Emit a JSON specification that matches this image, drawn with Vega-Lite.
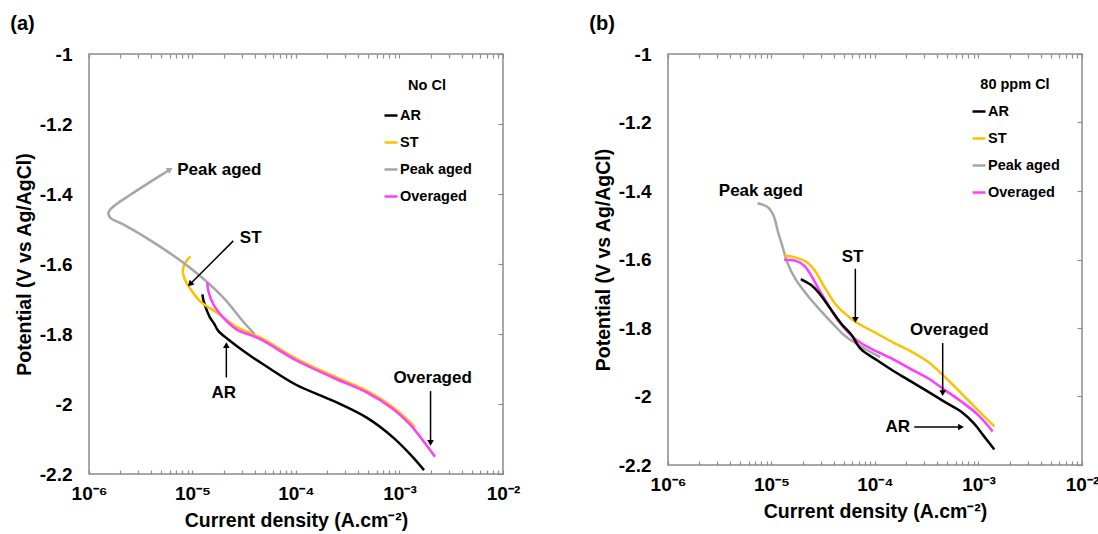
{
  "$schema": "https://vega.github.io/schema/vega-lite/v6.json",
  "padding": {"left": 9, "top": 13, "right": 5, "bottom": 5},
  "spacing": 67,
  "datasets": {
    "curves": [
      {"p":"a","s":"AR","i":0,"x":1.247e-5,"y":-1.687},
      {"p":"a","s":"AR","i":1,"x":1.279e-5,"y":-1.705},
      {"p":"a","s":"AR","i":2,"x":1.380e-5,"y":-1.734},
      {"p":"a","s":"AR","i":3,"x":1.476e-5,"y":-1.753},
      {"p":"a","s":"AR","i":4,"x":1.614e-5,"y":-1.770},
      {"p":"a","s":"AR","i":5,"x":1.774e-5,"y":-1.791},
      {"p":"a","s":"AR","i":6,"x":2.203e-5,"y":-1.815},
      {"p":"a","s":"AR","i":7,"x":3.258e-5,"y":-1.853},
      {"p":"a","s":"AR","i":8,"x":5.200e-5,"y":-1.893},
      {"p":"a","s":"AR","i":9,"x":1.0e-4,"y":-1.945},
      {"p":"a","s":"AR","i":10,"x":2.291e-4,"y":-1.991},
      {"p":"a","s":"AR","i":11,"x":4.819e-4,"y":-2.039},
      {"p":"a","s":"AR","i":12,"x":8.710e-4,"y":-2.096},
      {"p":"a","s":"AR","i":13,"x":1.358e-3,"y":-2.153},
      {"p":"a","s":"AR","i":14,"x":1.726e-3,"y":-2.189},
      {"p":"a","s":"ST","i":0,"x":9.57e-6,"y":-1.578},
      {"p":"a","s":"ST","i":1,"x":8.65e-6,"y":-1.593},
      {"p":"a","s":"ST","i":2,"x":8.07e-6,"y":-1.617},
      {"p":"a","s":"ST","i":3,"x":8.32e-6,"y":-1.640},
      {"p":"a","s":"ST","i":4,"x":9.33e-6,"y":-1.667},
      {"p":"a","s":"ST","i":5,"x":1.180e-5,"y":-1.706},
      {"p":"a","s":"ST","i":6,"x":1.746e-5,"y":-1.740},
      {"p":"a","s":"ST","i":7,"x":2.673e-5,"y":-1.780},
      {"p":"a","s":"ST","i":8,"x":4.467e-5,"y":-1.809},
      {"p":"a","s":"ST","i":9,"x":1.0e-4,"y":-1.870},
      {"p":"a","s":"ST","i":10,"x":2.291e-4,"y":-1.920},
      {"p":"a","s":"ST","i":11,"x":4.819e-4,"y":-1.962},
      {"p":"a","s":"ST","i":12,"x":8.710e-4,"y":-2.010},
      {"p":"a","s":"ST","i":13,"x":1.413e-3,"y":-2.066},
      {"p":"a","s":"Peak aged","i":0,"x":6.067e-6,"y":-1.330},
      {"p":"a","s":"Peak aged","i":1,"x":3.981e-6,"y":-1.364},
      {"p":"a","s":"Peak aged","i":2,"x":2.489e-6,"y":-1.403},
      {"p":"a","s":"Peak aged","i":3,"x":1.824e-6,"y":-1.430},
      {"p":"a","s":"Peak aged","i":4,"x":1.585e-6,"y":-1.446},
      {"p":"a","s":"Peak aged","i":5,"x":1.538e-6,"y":-1.456},
      {"p":"a","s":"Peak aged","i":6,"x":1.622e-6,"y":-1.469},
      {"p":"a","s":"Peak aged","i":7,"x":2.143e-6,"y":-1.487},
      {"p":"a","s":"Peak aged","i":8,"x":4.508e-6,"y":-1.544},
      {"p":"a","s":"Peak aged","i":9,"x":9.46e-6,"y":-1.611},
      {"p":"a","s":"Peak aged","i":10,"x":1.986e-5,"y":-1.696},
      {"p":"a","s":"Peak aged","i":11,"x":3.097e-5,"y":-1.765},
      {"p":"a","s":"Peak aged","i":12,"x":3.981e-5,"y":-1.800},
      {"p":"a","s":"Overaged","i":0,"x":1.390e-5,"y":-1.653},
      {"p":"a","s":"Overaged","i":1,"x":1.422e-5,"y":-1.677},
      {"p":"a","s":"Overaged","i":2,"x":1.589e-5,"y":-1.715},
      {"p":"a","s":"Overaged","i":3,"x":1.986e-5,"y":-1.753},
      {"p":"a","s":"Overaged","i":4,"x":2.673e-5,"y":-1.787},
      {"p":"a","s":"Overaged","i":5,"x":4.467e-5,"y":-1.814},
      {"p":"a","s":"Overaged","i":6,"x":1.0e-4,"y":-1.875},
      {"p":"a","s":"Overaged","i":7,"x":2.291e-4,"y":-1.925},
      {"p":"a","s":"Overaged","i":8,"x":4.819e-4,"y":-1.967},
      {"p":"a","s":"Overaged","i":9,"x":8.710e-4,"y":-2.015},
      {"p":"a","s":"Overaged","i":10,"x":1.262e-3,"y":-2.058},
      {"p":"a","s":"Overaged","i":11,"x":1.698e-3,"y":-2.106},
      {"p":"a","s":"Overaged","i":12,"x":2.203e-3,"y":-2.151},
      {"p":"b","s":"Peak aged","i":0,"x":7.33e-6,"y":-1.436},
      {"p":"b","s":"Peak aged","i":1,"x":9.12e-6,"y":-1.446},
      {"p":"b","s":"Peak aged","i":2,"x":1.023e-5,"y":-1.465},
      {"p":"b","s":"Peak aged","i":3,"x":1.084e-5,"y":-1.485},
      {"p":"b","s":"Peak aged","i":4,"x":1.143e-5,"y":-1.514},
      {"p":"b","s":"Peak aged","i":5,"x":1.276e-5,"y":-1.562},
      {"p":"b","s":"Peak aged","i":6,"x":1.429e-5,"y":-1.611},
      {"p":"b","s":"Peak aged","i":7,"x":1.718e-5,"y":-1.659},
      {"p":"b","s":"Peak aged","i":8,"x":2.228e-5,"y":-1.705},
      {"p":"b","s":"Peak aged","i":9,"x":2.999e-5,"y":-1.750},
      {"p":"b","s":"Peak aged","i":10,"x":3.981e-5,"y":-1.790},
      {"p":"b","s":"Peak aged","i":11,"x":5.070e-5,"y":-1.822},
      {"p":"b","s":"Peak aged","i":12,"x":7.31e-5,"y":-1.854},
      {"p":"b","s":"Peak aged","i":13,"x":1.122e-4,"y":-1.885},
      {"p":"b","s":"ST","i":0,"x":1.330e-5,"y":-1.588},
      {"p":"b","s":"ST","i":1,"x":1.656e-5,"y":-1.593},
      {"p":"b","s":"ST","i":2,"x":2.148e-5,"y":-1.606},
      {"p":"b","s":"ST","i":3,"x":2.582e-5,"y":-1.630},
      {"p":"b","s":"ST","i":4,"x":3.228e-5,"y":-1.679},
      {"p":"b","s":"ST","i":5,"x":4.188e-5,"y":-1.732},
      {"p":"b","s":"ST","i":6,"x":5.129e-5,"y":-1.758},
      {"p":"b","s":"ST","i":7,"x":6.397e-5,"y":-1.781},
      {"p":"b","s":"ST","i":8,"x":1.023e-4,"y":-1.815},
      {"p":"b","s":"ST","i":9,"x":1.535e-4,"y":-1.844},
      {"p":"b","s":"ST","i":10,"x":2.223e-4,"y":-1.868},
      {"p":"b","s":"ST","i":11,"x":3.221e-4,"y":-1.898},
      {"p":"b","s":"ST","i":12,"x":4.667e-4,"y":-1.941},
      {"p":"b","s":"ST","i":13,"x":6.776e-4,"y":-1.990},
      {"p":"b","s":"ST","i":14,"x":9.82e-4,"y":-2.039},
      {"p":"b","s":"ST","i":15,"x":1.422e-3,"y":-2.087},
      {"p":"b","s":"Overaged","i":0,"x":1.324e-5,"y":-1.601},
      {"p":"b","s":"Overaged","i":1,"x":1.718e-5,"y":-1.604},
      {"p":"b","s":"Overaged","i":2,"x":2.065e-5,"y":-1.618},
      {"p":"b","s":"Overaged","i":3,"x":2.399e-5,"y":-1.645},
      {"p":"b","s":"Overaged","i":4,"x":2.884e-5,"y":-1.689},
      {"p":"b","s":"Overaged","i":5,"x":3.606e-5,"y":-1.737},
      {"p":"b","s":"Overaged","i":6,"x":4.335e-5,"y":-1.776},
      {"p":"b","s":"Overaged","i":7,"x":5.916e-5,"y":-1.822},
      {"p":"b","s":"Overaged","i":8,"x":7.31e-5,"y":-1.844},
      {"p":"b","s":"Overaged","i":9,"x":1.059e-4,"y":-1.870},
      {"p":"b","s":"Overaged","i":10,"x":1.535e-4,"y":-1.893},
      {"p":"b","s":"Overaged","i":11,"x":2.223e-4,"y":-1.920},
      {"p":"b","s":"Overaged","i":12,"x":3.221e-4,"y":-1.946},
      {"p":"b","s":"Overaged","i":13,"x":4.667e-4,"y":-1.980},
      {"p":"b","s":"Overaged","i":14,"x":6.776e-4,"y":-2.014},
      {"p":"b","s":"Overaged","i":15,"x":9.82e-4,"y":-2.053},
      {"p":"b","s":"Overaged","i":16,"x":1.371e-3,"y":-2.102},
      {"p":"b","s":"AR","i":0,"x":1.919e-5,"y":-1.657},
      {"p":"b","s":"AR","i":1,"x":2.399e-5,"y":-1.674},
      {"p":"b","s":"AR","i":2,"x":2.884e-5,"y":-1.698},
      {"p":"b","s":"AR","i":3,"x":3.483e-5,"y":-1.732},
      {"p":"b","s":"AR","i":4,"x":4.688e-5,"y":-1.786},
      {"p":"b","s":"AR","i":5,"x":5.916e-5,"y":-1.820},
      {"p":"b","s":"AR","i":6,"x":7.31e-5,"y":-1.862},
      {"p":"b","s":"AR","i":7,"x":1.059e-4,"y":-1.895},
      {"p":"b","s":"AR","i":8,"x":1.535e-4,"y":-1.927},
      {"p":"b","s":"AR","i":9,"x":2.223e-4,"y":-1.956},
      {"p":"b","s":"AR","i":10,"x":3.221e-4,"y":-1.985},
      {"p":"b","s":"AR","i":11,"x":4.667e-4,"y":-2.015},
      {"p":"b","s":"AR","i":12,"x":6.776e-4,"y":-2.044},
      {"p":"b","s":"AR","i":13,"x":9.12e-4,"y":-2.080},
      {"p":"b","s":"AR","i":14,"x":1.122e-3,"y":-2.115},
      {"p":"b","s":"AR","i":15,"x":1.422e-3,"y":-2.155}
    ],
    "arrows": [
      {"p":"a","n":"ST","x":2.477e-5,"y":-1.534,"x2":9.46e-6,"y2":-1.658},
      {"p":"a","n":"AR","x":2.123e-5,"y":-1.924,"x2":2.123e-5,"y2":-1.832},
      {"p":"a","n":"Overaged","x":1.995e-3,"y":-1.963,"x2":1.995e-3,"y2":-2.111},
      {"p":"b","n":"ST","x":6.457e-5,"y":-1.627,"x2":6.457e-5,"y2":-1.776},
      {"p":"b","n":"Overaged","x":4.508e-4,"y":-1.844,"x2":4.508e-4,"y2":-1.990},
      {"p":"b","n":"AR","x":2.393e-4,"y":-2.089,"x2":6.776e-4,"y2":-2.089}
    ],
    "labels": [
      {"p":"a","t":"Peak aged","x":1.816e-5,"y":-1.330},
      {"p":"a","t":"ST","x":3.648e-5,"y":-1.525},
      {"p":"a","t":"AR","x":2.0e-5,"y":-1.968},
      {"p":"a","t":"Overaged","x":2.089e-3,"y":-1.925},
      {"p":"b","t":"Peak aged","x":7.89e-6,"y":-1.399},
      {"p":"b","t":"ST","x":6.067e-5,"y":-1.593},
      {"p":"b","t":"Overaged","x":5.224e-4,"y":-1.807},
      {"p":"b","t":"AR","x":1.656e-4,"y":-2.089}
    ]
  },
  "hconcat": [
    {
      "title": {"text": "(a)"},
      "width": 414,
      "height": 420,
      "layer": [
        {
          "data": {"name": "curves"},
          "transform": [{"filter": "datum.p === 'a'"}],
          "mark": {"type": "line", "strokeWidth": 2.5, "interpolate": "catmull-rom"},
          "encoding": {
            "x": {"field": "x", "type": "quantitative",
              "scale": {"type": "log", "domain": [1e-6, 1e-2], "nice": false},
              "axis": {"orient": "bottom", "values": [1e-6,2e-6,3e-6,4e-6,5e-6,6e-6,7e-6,8e-6,9e-6,1e-5,2e-5,3e-5,4e-5,5e-5,6e-5,7e-5,8e-5,9e-5,1e-4,2e-4,3e-4,4e-4,5e-4,6e-4,7e-4,8e-4,9e-4,1e-3,2e-3,3e-3,4e-3,5e-3,6e-3,7e-3,8e-3,9e-3,1e-2],
                "labelExpr": "abs(log(datum.value)/LN10 - round(log(datum.value)/LN10)) < 0.001 ? '10' + ['⁻⁶','⁻⁵','⁻⁴','⁻³','⁻²'][round(log(datum.value)/LN10) + 6] : ''",
                "tickSize": -4, "labelPadding": 14, "labelOverlap": false, "labelBound": false, "labelFlush": false,
                "title": "Current density (A.cm⁻²)", "titlePadding": 8}},
            "y": {"field": "y", "type": "quantitative",
              "scale": {"domain": [-2.2, -1], "nice": false, "zero": false},
              "axis": {"orient": "left", "values": [-2.2,-2,-1.8,-1.6,-1.4,-1.2,-1], "labelExpr": "'' + datum.value",
                "ticks": false, "labelPadding": 17, "title": "Potential (V vs Ag/AgCl)", "titlePadding": 5}},
            "color": {"field": "s", "type": "nominal",
              "scale": {"domain": ["AR", "ST", "Peak aged", "Overaged"], "range": ["#000000", "#FFC000", "#A6A6A6", "#FF3CFF"]},
              "legend": {"title": "No Cl", "legendX": 294, "legendY": 25}},
            "order": {"field": "i", "type": "quantitative"}
          }
        },
        {
          "data": {"name": "arrows"},
          "transform": [{"filter": "datum.p === 'a'"}],
          "mark": {"type": "rule", "color": "black", "strokeWidth": 1.5},
          "encoding": {
            "x": {"field": "x", "type": "quantitative", "scale": {"type": "log", "domain": [1e-6, 1e-2], "nice": false},
              "axis": {"orient": "top", "values": [1e-6,2e-6,3e-6,4e-6,5e-6,6e-6,7e-6,8e-6,9e-6,1e-5,2e-5,3e-5,4e-5,5e-5,6e-5,7e-5,8e-5,9e-5,1e-4,2e-4,3e-4,4e-4,5e-4,6e-4,7e-4,8e-4,9e-4,1e-3,2e-3,3e-3,4e-3,5e-3,6e-3,7e-3,8e-3,9e-3,1e-2],
                "labels": false, "tickSize": -4, "title": null}},
            "x2": {"field": "x2"},
            "y": {"field": "y", "type": "quantitative",
              "axis": {"orient": "right", "values": [-2.2,-2,-1.8,-1.6,-1.4,-1.2,-1], "labels": false, "tickSize": -5, "title": null}},
            "y2": {"field": "y2"}
          }
        },
        {
          "data": {"name": "arrows"},
          "transform": [{"filter": "datum.p === 'a' && datum.n === 'ST'"}],
          "mark": {"type": "point", "shape": "triangle-up", "angle": 225, "filled": true, "color": "black", "size": 45, "opacity": 1},
          "encoding": {"x": {"field": "x2", "type": "quantitative", "axis": null}, "y": {"field": "y2", "type": "quantitative", "axis": null}}
        },
        {
          "data": {"name": "arrows"},
          "transform": [{"filter": "datum.p === 'a' && datum.n === 'AR'"}],
          "mark": {"type": "point", "shape": "triangle-up", "filled": true, "color": "black", "size": 45, "opacity": 1},
          "encoding": {"x": {"field": "x2", "type": "quantitative", "axis": null}, "y": {"field": "y2", "type": "quantitative", "axis": null}}
        },
        {
          "data": {"name": "arrows"},
          "transform": [{"filter": "datum.p === 'a' && datum.n === 'Overaged'"}],
          "mark": {"type": "point", "shape": "triangle-down", "filled": true, "color": "black", "size": 45, "opacity": 1},
          "encoding": {"x": {"field": "x2", "type": "quantitative", "axis": null}, "y": {"field": "y2", "type": "quantitative", "axis": null}}
        },
        {
          "data": {"name": "curves"},
          "transform": [{"filter": "datum.p === 'a' && datum.s === 'Peak aged' && datum.i === 0"}],
          "mark": {"type": "point", "shape": "triangle-up", "angle": 60, "filled": true, "color": "#A6A6A6", "size": 45, "opacity": 1},
          "encoding": {"x": {"field": "x", "type": "quantitative", "axis": null}, "y": {"field": "y", "type": "quantitative", "axis": null}}
        },
        {
          "data": {"name": "labels"},
          "transform": [{"filter": "datum.p === 'a'"}],
          "mark": {"type": "text", "fontSize": 17, "fontWeight": "bold", "font": "Liberation Sans", "color": "black", "baseline": "middle", "align": "center"},
          "encoding": {"x": {"field": "x", "type": "quantitative", "axis": null}, "y": {"field": "y", "type": "quantitative", "axis": null}, "text": {"field": "t"}}
        }
      ],
      "resolve": {"axis": {"x": "independent", "y": "independent"}}
    },
    {
      "title": {"text": "(b)"},
      "width": 414,
      "height": 411,
      "layer": [
        {
          "data": {"name": "curves"},
          "transform": [{"filter": "datum.p === 'b'"}],
          "mark": {"type": "line", "strokeWidth": 2.5, "interpolate": "catmull-rom"},
          "encoding": {
            "x": {"field": "x", "type": "quantitative",
              "scale": {"type": "log", "domain": [1e-6, 1e-2], "nice": false},
              "axis": {"orient": "bottom", "values": [1e-6,2e-6,3e-6,4e-6,5e-6,6e-6,7e-6,8e-6,9e-6,1e-5,2e-5,3e-5,4e-5,5e-5,6e-5,7e-5,8e-5,9e-5,1e-4,2e-4,3e-4,4e-4,5e-4,6e-4,7e-4,8e-4,9e-4,1e-3,2e-3,3e-3,4e-3,5e-3,6e-3,7e-3,8e-3,9e-3,1e-2],
                "labelExpr": "abs(log(datum.value)/LN10 - round(log(datum.value)/LN10)) < 0.001 ? '10' + ['⁻⁶','⁻⁵','⁻⁴','⁻³','⁻²'][round(log(datum.value)/LN10) + 6] : ''",
                "tickSize": -4, "labelPadding": 14, "labelOverlap": false, "labelBound": false, "labelFlush": false,
                "title": "Current density (A.cm⁻²)", "titlePadding": 8}},
            "y": {"field": "y", "type": "quantitative",
              "scale": {"domain": [-2.2, -1], "nice": false, "zero": false},
              "axis": {"orient": "left", "values": [-2.2,-2,-1.8,-1.6,-1.4,-1.2,-1], "labelExpr": "'' + datum.value",
                "ticks": false, "labelPadding": 17, "title": "Potential (V vs Ag/AgCl)", "titlePadding": 5}},
            "color": {"field": "s", "type": "nominal",
              "scale": {"domain": ["AR", "ST", "Peak aged", "Overaged"], "range": ["#000000", "#FFC000", "#A6A6A6", "#FF3CFF"]},
              "legend": {"title": "80 ppm Cl", "legendX": 303, "legendY": 24, "titlePadding": 11}},
            "order": {"field": "i", "type": "quantitative"}
          }
        },
        {
          "data": {"name": "arrows"},
          "transform": [{"filter": "datum.p === 'b'"}],
          "mark": {"type": "rule", "color": "black", "strokeWidth": 1.5},
          "encoding": {
            "x": {"field": "x", "type": "quantitative", "scale": {"type": "log", "domain": [1e-6, 1e-2], "nice": false},
              "axis": {"orient": "top", "values": [1e-6,2e-6,3e-6,4e-6,5e-6,6e-6,7e-6,8e-6,9e-6,1e-5,2e-5,3e-5,4e-5,5e-5,6e-5,7e-5,8e-5,9e-5,1e-4,2e-4,3e-4,4e-4,5e-4,6e-4,7e-4,8e-4,9e-4,1e-3,2e-3,3e-3,4e-3,5e-3,6e-3,7e-3,8e-3,9e-3,1e-2],
                "labels": false, "tickSize": -4, "title": null}},
            "x2": {"field": "x2"},
            "y": {"field": "y", "type": "quantitative",
              "axis": {"orient": "right", "values": [-2.2,-2,-1.8,-1.6,-1.4,-1.2,-1], "labels": false, "tickSize": -5, "title": null}},
            "y2": {"field": "y2"}
          }
        },
        {
          "data": {"name": "arrows"},
          "transform": [{"filter": "datum.p === 'b' && datum.n !== 'AR'"}],
          "mark": {"type": "point", "shape": "triangle-down", "filled": true, "color": "black", "size": 45, "opacity": 1},
          "encoding": {"x": {"field": "x2", "type": "quantitative", "axis": null}, "y": {"field": "y2", "type": "quantitative", "axis": null}}
        },
        {
          "data": {"name": "arrows"},
          "transform": [{"filter": "datum.p === 'b' && datum.n === 'AR'"}],
          "mark": {"type": "point", "shape": "triangle-right", "filled": true, "color": "black", "size": 45, "opacity": 1},
          "encoding": {"x": {"field": "x2", "type": "quantitative", "axis": null}, "y": {"field": "y2", "type": "quantitative", "axis": null}}
        },
        {
          "data": {"name": "labels"},
          "transform": [{"filter": "datum.p === 'b'"}],
          "mark": {"type": "text", "fontSize": 17, "fontWeight": "bold", "font": "Liberation Sans", "color": "black", "baseline": "middle", "align": "center"},
          "encoding": {"x": {"field": "x", "type": "quantitative", "axis": null}, "y": {"field": "y", "type": "quantitative", "axis": null}, "text": {"field": "t"}}
        }
      ],
      "resolve": {"axis": {"x": "independent", "y": "independent"}}
    }
  ],
  "resolve": {"scale": {"color": "independent"}, "legend": {"color": "independent"}},
  "config": {
    "font": "Liberation Sans",
    "background": "white",
    "view": {"stroke": "#8c8c8c", "strokeWidth": 1.5},
    "axis": {"labelFont": "Liberation Sans", "labelFontWeight": "bold", "labelFontSize": 19, "labelColor": "black",
      "titleFont": "Liberation Sans", "titleFontWeight": "bold", "titleFontSize": 19.5, "titleColor": "black",
      "grid": false, "domain": false, "tickColor": "#8c8c8c", "tickWidth": 1.2},
    "legend": {"orient": "none", "labelFont": "Liberation Sans", "labelFontWeight": "bold", "labelFontSize": 14.5, "labelColor": "black",
      "titleFont": "Liberation Sans", "titleFontWeight": "bold", "titleFontSize": 14.5, "titleColor": "black",
      "symbolType": "stroke", "symbolSize": 169, "symbolStrokeWidth": 2.5, "labelOffset": 1, "rowPadding": 12,
      "titlePadding": 14, "titleAnchor": "middle", "padding": 0},
    "title": {"anchor": "start", "frame": "bounds", "fontSize": 20, "fontWeight": "bold", "font": "Liberation Sans", "color": "black", "dx": -4, "offset": 11}
  }
}
